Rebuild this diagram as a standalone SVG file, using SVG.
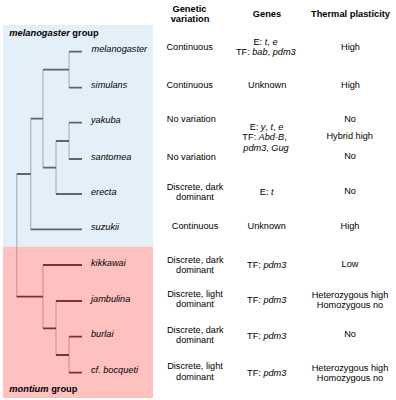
<svg xmlns="http://www.w3.org/2000/svg" width="396" height="400" viewBox="0 0 396 400">
<style>
text{font-family:"Liberation Sans",Arial,sans-serif;font-size:9.2px;fill:#000}
.h{font-weight:bold;font-size:9.3px;text-anchor:middle}
.c{text-anchor:middle}
.tip{font-style:italic}
.g{font-weight:bold;font-size:9.3px}
.it{font-style:italic}
.hb{stroke:#5a6670;stroke-width:1.8;fill:none}
.vb{stroke:#a9b5be;stroke-width:1.2;fill:none}
.hp{stroke:#7c3039;stroke-width:1.8;fill:none}
.vp{stroke:#d6939a;stroke-width:1.2;fill:none}
</style>
<rect width="396" height="400" fill="#fff"/>
<rect id="melanogaster-bg" x="3" y="25" width="150" height="221.7" fill="#e3f0fa"/>
<rect id="montium-bg" x="3" y="246.7" width="150" height="151.3" fill="#ffc0c0"/>

<g id="headers">
<text class="h" x="189.5" y="11.6">Genetic</text>
<text class="h" x="190" y="21.6">variation</text>
<text class="h" x="267" y="16.6">Genes</text>
<text class="h" x="350.5" y="16.6">Thermal plasticity</text>
</g>

<g id="connectors">
<path class="vb" d="M69 51.7V87.7M69 122.7V159M56 141V194M43 69.7V167.7M30.7 118.7V229.3M16.7 174V246.7"/>
<path class="hb" d="M69 51.7H82M69 87.7H82M43 69.7H69M69 122.7H82M69 159H82M56 141H69M56 194H82M43 167.7H56M30.7 118.7H43M30.7 229.3H82M16.7 174H30.7"/>
<path class="vp" d="M16.7 246.7V296.7M43 265V328.3M56 301V355M69 336.7V372.7"/>
<path class="hp" d="M16.7 296.7H43M43 265H82M43 328.3H56M56 301H82M56 355H69M69 336.7H82M69 372.7H82"/>
</g>

<g id="group-labels">
<text class="g" x="9.3" y="36.3"><tspan font-style="italic">melanogaster</tspan> group</text>
<text class="g" x="9.3" y="392.3"><tspan font-style="italic">montium</tspan> group</text>
</g>

<g id="melanogaster">
<text class="tip" x="91.5" y="52.2">melanogaster</text>
<text class="c" x="189.7" y="50">Continuous</text>
<text class="c" x="265.5" y="45"><tspan>E: </tspan><tspan class="it">t</tspan><tspan>, </tspan><tspan class="it">e</tspan></text>
<text class="c" x="265.8" y="55"><tspan>TF: </tspan><tspan class="it">bab</tspan><tspan>, </tspan><tspan class="it">pdm3</tspan></text>
<text class="c" x="350.5" y="50">High</text>
</g>

<g id="simulans">
<text class="tip" x="91" y="88.2">simulans</text>
<text class="c" x="189.7" y="87.6">Continuous</text>
<text class="c" x="267.2" y="87.6">Unknown</text>
<text class="c" x="350.5" y="87.6">High</text>
</g>

<g id="yakuba">
<text class="tip" x="91" y="123.2">yakuba</text>
<text class="c" x="191.3" y="121.6">No variation</text>
<text class="c" x="350" y="121.6">No</text>
</g>

<g id="yakuba-santomea-genes">
<text class="c" x="266.5" y="130"><tspan>E: </tspan><tspan class="it">y</tspan><tspan>, </tspan><tspan class="it">t</tspan><tspan>, </tspan><tspan class="it">e</tspan></text>
<text class="c" x="264.5" y="140"><tspan>TF: </tspan><tspan class="it">Abd-B</tspan><tspan>,</tspan></text>
<text class="c" x="266" y="150.6"><tspan class="it">pdm3</tspan><tspan>, </tspan><tspan class="it">Gug</tspan></text>
<text class="c" x="349.7" y="139">Hybrid high</text>
</g>

<g id="santomea">
<text class="tip" x="91" y="159.5">santomea</text>
<text class="c" x="191.3" y="160">No variation</text>
<text class="c" x="350" y="159">No</text>
</g>

<g id="erecta">
<text class="tip" x="91" y="194.5">erecta</text>
<text class="c" x="195" y="190">Discrete, dark</text>
<text class="c" x="195" y="200">dominant</text>
<text class="c" x="266.7" y="195"><tspan>E: </tspan><tspan class="it">t</tspan></text>
<text class="c" x="350" y="194">No</text>
</g>

<g id="suzukii">
<text class="tip" x="91" y="229.8">suzukii</text>
<text class="c" x="195" y="229">Continuous</text>
<text class="c" x="266.7" y="229">Unknown</text>
<text class="c" x="350" y="229">High</text>
</g>

<g id="kikkawai">
<text class="tip" x="91" y="265.5">kikkawai</text>
<text class="c" x="195.3" y="263.3">Discrete, dark</text>
<text class="c" x="195" y="273.3">dominant</text>
<text class="c" x="266.7" y="268.3"><tspan>TF: </tspan><tspan class="it">pdm3</tspan></text>
<text class="c" x="350" y="267.3">Low</text>
</g>

<g id="jambulina">
<text class="tip" x="91" y="301.5">jambulina</text>
<text class="c" x="195" y="296.6">Discrete, light</text>
<text class="c" x="195" y="306.6">dominant</text>
<text class="c" x="266.7" y="303.3"><tspan>TF: </tspan><tspan class="it">pdm3</tspan></text>
<text class="c" x="350" y="297.6">Heterozygous high</text>
<text class="c" x="350" y="307.6">Homozygous no</text>
</g>

<g id="burlai">
<text class="tip" x="91" y="337.2">burlai</text>
<text class="c" x="195.3" y="333.3">Discrete, dark</text>
<text class="c" x="195" y="343.3">dominant</text>
<text class="c" x="266.7" y="339.3"><tspan>TF: </tspan><tspan class="it">pdm3</tspan></text>
<text class="c" x="350" y="337.3">No</text>
</g>

<g id="bocqueti">
<text class="tip" x="91" y="373.2">cf. bocqueti</text>
<text class="c" x="195" y="369.3">Discrete, light</text>
<text class="c" x="195" y="380">dominant</text>
<text class="c" x="266.7" y="376"><tspan>TF: </tspan><tspan class="it">pdm3</tspan></text>
<text class="c" x="350" y="371">Heterozygous high</text>
<text class="c" x="350" y="381">Homozygous no</text>
</g>
</svg>
